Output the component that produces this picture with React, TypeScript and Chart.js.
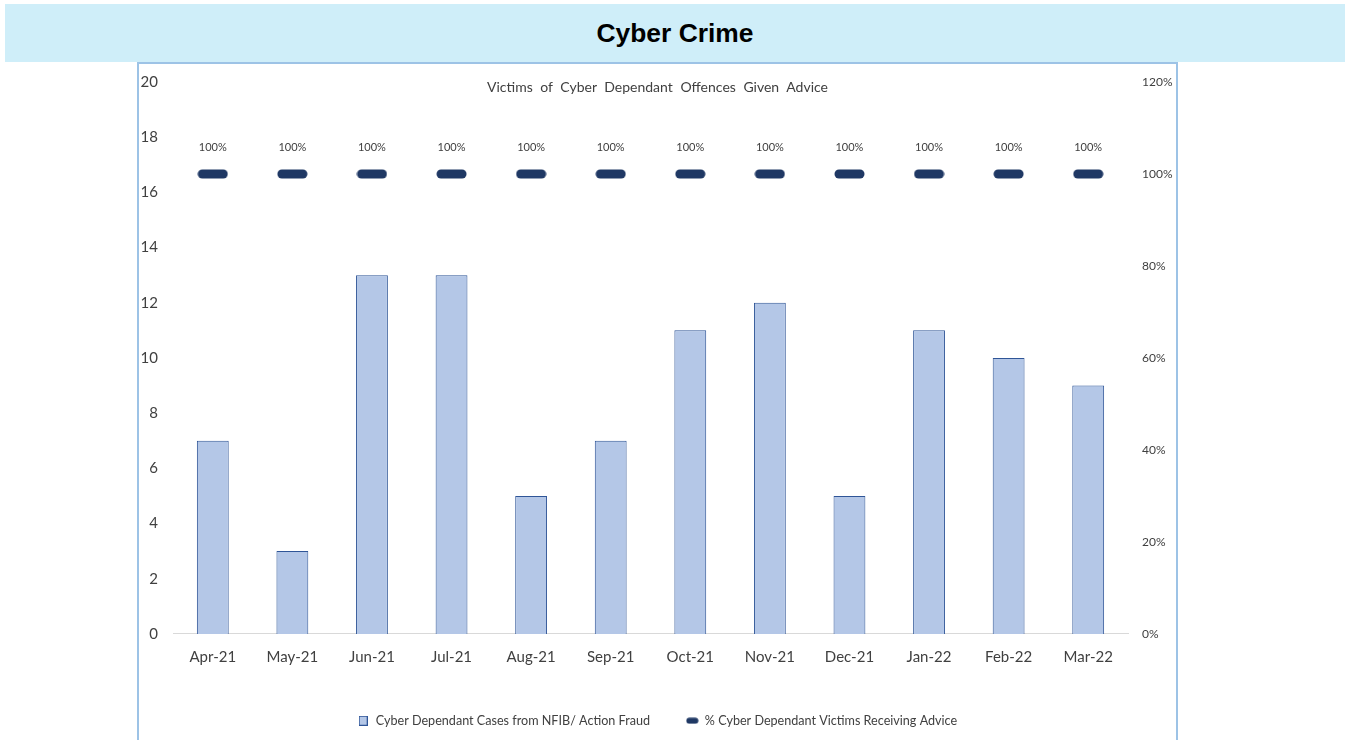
import React, { useEffect, useRef } from "react";
import { Chart, registerables } from "chart.js";

Chart.register(...registerables);

const categories = ["Apr-21", "May-21", "Jun-21", "Jul-21", "Aug-21", "Sep-21", "Oct-21", "Nov-21", "Dec-21", "Jan-22", "Feb-22", "Mar-22"];
const casesValues = [7, 3, 13, 13, 5, 7, 11, 12, 5, 11, 10, 9];
const adviceValues = [1, 1, 1, 1, 1, 1, 1, 1, 1, 1, 1, 1];
const leftTicks = { min: 0, max: 20, step: 2 };
const rightTicks = { min: 0, max: 1.2, step: 0.2 };

const barLabel = "Cyber Dependant Cases from NFIB/ Action Fraud";
const lineLabel = "% Cyber Dependant Victims Receiving Advice";

const FONT = "Lato, 'Noto Sans', sans-serif";
const TEXT = "#404040";

function makeDash(w: number, h: number, r: number, color: string) {
  const c = document.createElement("canvas");
  c.width = w;
  c.height = h;
  const ctx = c.getContext("2d")!;
  ctx.fillStyle = color;
  ctx.beginPath();
  (ctx as any).roundRect(0.5, 0.5, w - 1, h - 1, r);
  ctx.fill();
  return c;
}

function makeBox(w: number, h: number) {
  const c = document.createElement("canvas");
  c.width = w;
  c.height = h;
  const ctx = c.getContext("2d")!;
  ctx.fillStyle = "#B4C7E7";
  ctx.fillRect(0, 0, w, h);
  ctx.strokeStyle = "#2F5597";
  ctx.lineWidth = 1;
  ctx.strokeRect(0.5, 0.5, w - 1, h - 1);
  return c;
}

const LEGEND_PAD = 36;

export default function App() {
  const ref = useRef<HTMLCanvasElement | null>(null);

  useEffect(() => {
    if (!ref.current) return;
    const dash = makeDash(31, 10, 4.5, "#1F3864");
    const legendDash = makeDash(13, 7, 3.5, "#1F3864");
    const legendBox = makeBox(9, 10);

    const labelPlugin = {
      id: "pctLabels",
      afterDatasetsDraw(chart: any) {
        const meta = chart.getDatasetMeta(1);
        const ctx = chart.ctx;
        ctx.save();
        ctx.font = `11px ${FONT}`;
        ctx.fillStyle = TEXT;
        ctx.textAlign = "center";
        ctx.textBaseline = "middle";
        meta.data.forEach((pt: any, i: number) => {
          ctx.fillText(Math.round(adviceValues[i] * 100) + "%", pt.x, pt.y - 27);
        });
        ctx.restore();
      },
    };

    const chart = new Chart(ref.current, {
      type: "bar",
      data: {
        labels: categories,
        datasets: [
          {
            type: "bar",
            label: barLabel,
            data: casesValues,
            backgroundColor: "#B4C7E7",
            borderColor: "#2F5597",
            borderWidth: { left: 1, right: 1, top: 1, bottom: 0 },
            barPercentage: 0.4,
            categoryPercentage: 1,
            yAxisID: "y",
            order: 2,
          },
          {
            type: "line",
            label: lineLabel,
            data: adviceValues,
            showLine: false,
            pointStyle: dash as any,
            pointRadius: 10,
            yAxisID: "y1",
            order: 1,
          },
        ],
      } as any,
      plugins: [labelPlugin],
      options: {
        responsive: false,
        animation: false,
        devicePixelRatio: 1,
        layout: { padding: { top: 18, left: 0, right: 0, bottom: 3 } },
        plugins: {
          title: { display: false },
          tooltip: { enabled: false },
          legend: {
            display: true,
            position: "bottom",
            labels: {
              usePointStyle: true,
              color: TEXT,
              font: { family: FONT, size: 12.6 },
              padding: LEGEND_PAD,
              generateLabels: () => [
                { text: barLabel, pointStyle: legendBox as any, hidden: false, datasetIndex: 0, fontColor: TEXT, lineWidth: 0 },
                { text: lineLabel, pointStyle: legendDash as any, hidden: false, datasetIndex: 1, fontColor: TEXT, lineWidth: 0 },
              ] as any,
            },
          },
        },
        scales: {
          x: {
            grid: { display: false, drawTicks: false },
            border: { display: true, color: "#D9D9D9", width: 1 },
            ticks: { color: TEXT, font: { family: FONT, size: 15 }, padding: 14, maxRotation: 0 },
            afterFit: (s: any) => { s.height = 80.5 - LEGEND_PAD; },
          },
          y: {
            position: "left",
            min: leftTicks.min,
            max: leftTicks.max,
            grid: { display: false, drawTicks: false },
            border: { display: false },
            ticks: { stepSize: leftTicks.step, color: TEXT, font: { family: FONT, size: 15 }, padding: 15 },
            afterFit: (s: any) => { s.width = 34; s.paddingTop = 0; s.paddingBottom = 0; },
          },
          y1: {
            position: "right",
            min: rightTicks.min,
            max: rightTicks.max,
            grid: { display: false, drawTicks: false },
            border: { display: false },
            ticks: {
              stepSize: rightTicks.step,
              color: TEXT,
              font: { family: FONT, size: 12 },
              padding: 14,
              callback: (v: any) => Math.round(Number(v) * 100) + "%",
            },
            afterFit: (s: any) => { s.width = 47; s.paddingTop = 0; s.paddingBottom = 0; },
          },
        },
      } as any,
    });
    return () => chart.destroy();
  }, []);

  return (
    <div style={{ position: "absolute", left: 0, top: 0, width: 1351, height: 740, overflow: "hidden", background: "#fff" }}>
      <div
        style={{
          position: "absolute",
          left: 5,
          top: 4,
          width: 1340,
          height: 58,
          background: "#CFEEF9",
          display: "flex",
          alignItems: "center",
          justifyContent: "center",
          fontFamily: "'Liberation Sans', Arial, sans-serif",
          fontWeight: "bold",
          fontSize: 26.4,
          color: "#000",
        }}
      >
        Cyber Crime
      </div>
      <div
        style={{
          position: "absolute",
          left: 137,
          top: 62,
          width: 1037,
          height: 700,
          borderLeft: "2px solid #9DC3E6",
          borderRight: "2px solid #9DC3E6",
          borderTop: "2px solid #9DC3E6",
        }}
      >
        <canvas ref={ref} width={1036} height={676} style={{ position: "absolute", left: 0, top: 0, width: 1036, height: 676 }} />
        <div
          style={{
            position: "absolute",
            left: 0,
            width: 1037,
            top: 14,
            textAlign: "center",
            fontFamily: FONT,
            fontSize: 14,
            color: TEXT,
            wordSpacing: 4,
          }}
        >
          Victims of Cyber Dependant Offences Given Advice
        </div>
      </div>
    </div>
  );
}
